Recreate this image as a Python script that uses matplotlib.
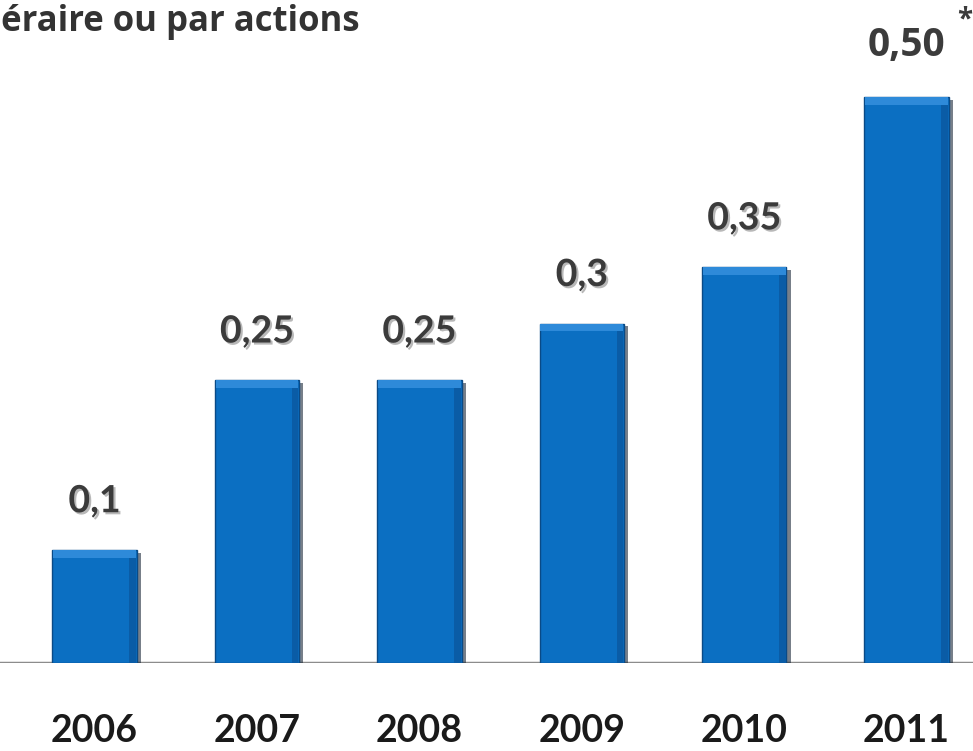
import matplotlib.pyplot as plt
import matplotlib.patheffects as pe

# dividend per share by year
years = ['2006', '2007', '2008', '2009', '2010', '2011']
dividends = [0.10, 0.25, 0.25, 0.30, 0.35, 0.50]
labels = ['0,1', '0,25', '0,25', '0,3', '0,35', '0,50']

bar_color = '#0b6fc2'
text_color = '#3b3b3b'

fig = plt.figure(figsize=(9.73, 7.51), dpi=100)
ax = fig.add_axes([0, 0.1172, 1, 0.8828])

x = list(range(len(years)))
width = 0.52
bars = ax.bar(x, dividends, width=width, color=bar_color, edgecolor='#0a4a86',
              linewidth=1.0, zorder=3)
for b in bars:
    b.set_path_effects([pe.SimplePatchShadow(offset=(3, -2), shadow_rgbFace='#1c2a3a', alpha=0.6),
                        pe.Normal()])

# bevel: light strip on top, darker strip on the right side
bevel = 0.007
ax.bar(x, [bevel] * len(x), bottom=[d - bevel for d in dividends], width=width - 0.01,
       color='#2e8ad9', linewidth=0, zorder=4)
ax.bar([i + width / 2 - 0.025 for i in x], [d - bevel for d in dividends], width=0.04,
       color='#0a5ca6', linewidth=0, zorder=4)

ax.axhline(0, color='#8c8c8c', linewidth=2.5, zorder=2)

ax.set_xlim(-0.582, 5.409)
ax.set_ylim(0, 0.586)

shadow = [pe.withSimplePatchShadow(offset=(1.5, -1.5), shadow_rgbFace='#9a9a9a', alpha=0.7)]
for i, (v, lab) in enumerate(zip(dividends, labels)):
    if i == len(dividends) - 1:
        ax.annotate(lab, (i, v), xytext=(0, 37), textcoords='offset points',
                    ha='center', va='center', fontsize=28, fontweight='bold',
                    family='Open Sans', color=text_color)
        ax.annotate('*', (i, v), xytext=(42, 56), textcoords='offset points',
                    ha='center', va='center', fontsize=20, fontweight='bold',
                    family='Open Sans', color=text_color)
    else:
        ax.annotate(lab, (i, v), xytext=(0, 35), textcoords='offset points',
                    ha='center', va='center', fontsize=27, fontweight='bold',
                    family='Lato', color=text_color, path_effects=shadow)

ax.set_xticks(x)
ax.set_xticklabels(years, fontsize=27, fontweight='bold', family='Lato', color='#1a1a1a')
ax.tick_params(axis='x', length=0, pad=37)
ax.set_yticks([])
for s in ax.spines.values():
    s.set_visible(False)

fig.text(0.37, 0.971, 'Dividende en numéraire ou par actions', ha='right', va='center',
         fontsize=25, fontweight='bold', family='Open Sans', color='#333333')

fig.savefig('out.png', dpi=100)
